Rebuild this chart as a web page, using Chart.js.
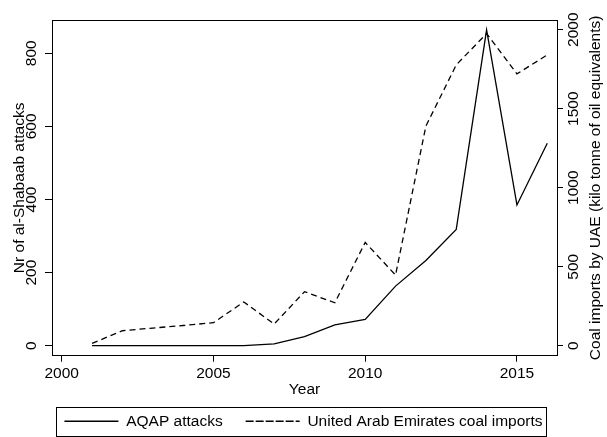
<!DOCTYPE html>
<html>
<head>
<meta charset="utf-8">
<script src="https://cdn.jsdelivr.net/npm/chart.js@4"></script>
<style>
  html, body { margin: 0; padding: 0; background: #fff; }
  #wrap { width: 607px; height: 437px; }
</style>
</head>
<body>
<div id="wrap"><canvas id="chart" width="607" height="437"></canvas></div>
<script>
  const years = [2001, 2002, 2003, 2004, 2005, 2006, 2007, 2008, 2009, 2010, 2011, 2012, 2013, 2014, 2015, 2016];
  const aqapAttacks = [0, 0, 0, 0, 0, 0, 5, 25, 57, 72, 163, 233, 318, 864, 385, 554];
  const uaeCoal = [15, 95, 112, 128, 146, 277, 137, 342, 272, 654, 447, 1390, 1777, 1975, 1720, 1840];

  const yearTicks = [2000, 2005, 2010, 2015];
  const attackTicks = [0, 200, 400, 600, 800];
  const coalTicks = [0, 500, 1000, 1500, 2000];

  const FONT = '"Liberation Sans", Arial, Helvetica, sans-serif';
  const SIZE = 15.5;
  const rightTitle = 'Coal imports by UAE (kilo tonne of oil equivalents)';

  const setTicks = list => scale => { scale.ticks = list.map(v => ({ value: v })); };

  const framePlugin = {
    id: 'frame',
    afterDraw(chart) {
      const { ctx, chartArea: a } = chart;
      ctx.save();
      ctx.strokeStyle = '#000';
      ctx.lineWidth = 1;
      ctx.beginPath();
      ctx.moveTo(a.left, a.top + 0.5);
      ctx.lineTo(a.right, a.top + 0.5);
      ctx.stroke();

      // right axis title, reads bottom to top
      ctx.fillStyle = '#000';
      ctx.font = SIZE + 'px ' + FONT;
      ctx.textAlign = 'center';
      ctx.textBaseline = 'middle';
      ctx.translate(596, (a.top + a.bottom) / 2);
      ctx.rotate(-Math.PI / 2);
      ctx.fillText(rightTitle, 0, 0);
      ctx.restore();

      // box round the legend
      const lg = chart.legend;
      if (lg && lg.lineWidths) {
        const pad = lg.options.labels.padding;
        const startX = (lg.left + pad + lg.right - lg.lineWidths[0]) / 2;
        const midY = lg.top + pad + SIZE / 2;
        ctx.save();
        ctx.strokeStyle = '#000';
        ctx.lineWidth = 1;
        ctx.strokeRect(Math.round(startX - 8) + 0.5, Math.round(midY - 14.5) + 0.5,
          Math.round(lg.lineWidths[0] - pad + 12), 29);
        ctx.restore();
      }
    }
  };

  new Chart(document.getElementById('chart'), {
    type: 'line',
    data: {
      datasets: [
        {
          label: 'AQAP attacks',
          data: years.map((y, i) => ({ x: y, y: aqapAttacks[i] })),
          yAxisID: 'y',
          borderColor: '#000',
          backgroundColor: 'rgba(0,0,0,0)',
          borderWidth: 1.3,
          pointRadius: 0,
          tension: 0
        },
        {
          label: 'United Arab Emirates coal imports',
          data: years.map((y, i) => ({ x: y, y: uaeCoal[i] })),
          yAxisID: 'y2',
          borderColor: '#000',
          backgroundColor: 'rgba(0,0,0,0)',
          borderWidth: 1.3,
          borderDash: [6, 4],
          pointRadius: 0,
          tension: 0
        }
      ]
    },
    options: {
      responsive: false,
      animation: false,
      devicePixelRatio: 1,
      layout: { padding: { top: 20, left: 0, right: 0, bottom: -2 } },
      plugins: {
        tooltip: { enabled: false },
        legend: {
          position: 'bottom',
          align: 'center',
          labels: {
            boxWidth: 54,
            boxHeight: 0,
            padding: 23,
            color: '#000',
            font: { family: FONT, size: SIZE }
          }
        }
      },
      scales: {
        x: {
          type: 'linear',
          min: 1999.68,
          max: 2016.32,
          afterBuildTicks: setTicks(yearTicks),
          afterFit: s => { s.height = 34.8; },
          grid: { display: true, drawOnChartArea: false, drawTicks: true, tickLength: 6, color: '#000' },
          border: { display: true, color: '#000', width: 1 },
          ticks: {
            color: '#000',
            padding: 3,
            maxRotation: 0,
            font: { family: FONT, size: SIZE },
            callback: v => String(v)
          },
          title: { display: true, text: 'Year', color: '#000', padding: { top: 0, bottom: -9 }, font: { family: FONT, size: SIZE } }
        },
        y: {
          position: 'left',
          min: -27.4,
          max: 891,
          afterBuildTicks: setTicks(attackTicks),
          afterFit: s => { s.width = 52; },
          grid: { display: true, drawOnChartArea: false, drawTicks: true, tickLength: 7, color: '#000' },
          border: { display: true, color: '#000', width: 1 },
          ticks: {
            color: '#000',
            padding: 0,
            minRotation: 90,
            maxRotation: 90,
            crossAlign: 'center',
            font: { family: FONT, size: SIZE },
            callback: v => String(v)
          },
          title: { display: true, text: 'Nr of al-Shabaab attacks', color: '#000', padding: { top: 10, bottom: 0 }, font: { family: FONT, size: SIZE } }
        },
        y2: {
          position: 'right',
          min: -63,
          max: 2061,
          afterBuildTicks: setTicks(coalTicks),
          afterFit: s => { s.width = 50; },
          grid: { display: true, drawOnChartArea: false, drawTicks: true, tickLength: 6, color: '#000' },
          border: { display: true, color: '#000', width: 1 },
          ticks: {
            color: '#000',
            padding: -7,
            minRotation: 90,
            maxRotation: 90,
            crossAlign: 'center',
            font: { family: FONT, size: SIZE },
            callback: v => String(v)
          },
          title: { display: false }
        }
      }
    },
    plugins: [framePlugin]
  });
</script>
</body>
</html>
